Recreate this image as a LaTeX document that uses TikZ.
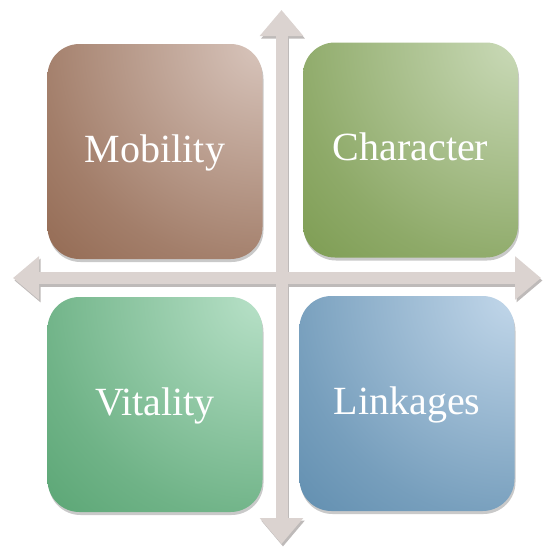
\documentclass[tikz,border=0pt]{standalone}
\usepackage{fontspec}
\setmainfont{Liberation Serif}
\usetikzlibrary{arrows.meta,shadows}
\definecolor{axisgray}{RGB}{219,211,208}
\definecolor{axisshade}{RGB}{190,186,185}
\definecolor{mobilitylo}{RGB}{134,88,62}
\definecolor{mobilityhi}{RGB}{216,197,188}
\definecolor{characterlo}{RGB}{110,144,62}
\definecolor{characterhi}{RGB}{202,218,184}
\definecolor{vitalitylo}{RGB}{72,154,100}
\definecolor{vitalityhi}{RGB}{184,225,200}
\definecolor{linkageslo}{RGB}{78,128,164}
\definecolor{linkageshi}{RGB}{194,215,234}
% light corner fading into the dark tone
\newcommand\tileshading[1]{%
  \pgfdeclareradialshading{#1shade}{\pgfpointorigin}{%
    color(0bp)=(#1hi); color(14bp)=(#1lo!65!#1hi);
    color(24bp)=(#1lo); color(50bp)=(#1lo)}}
\tileshading{mobility}
\tileshading{character}
\tileshading{vitality}
\tileshading{linkages}
\tikzset{
  tile/.style={rectangle,rounded corners=32pt,minimum width=215pt,
               minimum height=215pt,inner sep=0pt,text=white,
               font=\fontsize{40}{42}\selectfont,
               text height=27pt,text depth=6pt,
               drop shadow={shadow xshift=1pt,shadow yshift=-3pt,
                            opacity=0.3,fill=black!70},
               path picture={\shade[shading=#1shade]
                 (path picture bounding box.north east) circle (400pt);}},
  axisarrow/.style={line width=12pt,
                    {Triangle[width=42pt,length=26pt]}-{Triangle[width=42pt,length=26pt]}},
}
\begin{document}
\begin{tikzpicture}[x=1pt,y=-1pt]
  \useasboundingbox (0,0) rectangle (543,549);
  % ends of the two axes
  \coordinate (west) at (13,278);
  \coordinate (east) at (541,278);
  \coordinate (north) at (281.5,10);
  \coordinate (south) at (281.5,544);
  % shadows first, then the axes on top
  \draw[axisarrow,axisshade] ([xshift=1.5pt,yshift=-2.5pt]west) -- ([xshift=1.5pt,yshift=-2.5pt]east);
  \draw[axisarrow,axisshade] ([xshift=1.5pt,yshift=-2.5pt]north) -- ([xshift=1.5pt,yshift=-2.5pt]south);
  \draw[axisarrow,axisgray] (west) -- (east);
  \draw[axisarrow,axisgray] (north) -- (south);
  % the four quadrants
  \foreach \n/\x/\y/\c/\l in {mob/155/151.5/mobility/Mobility,
                              chr/410.5/150/character/Character,
                              vit/155/404.5/vitality/Vitality,
                              lnk/407/403.5/linkages/Linkages}{
    \node[tile=\c] (\n) at (\x,\y) {\l};
  }
\end{tikzpicture}
\end{document}
